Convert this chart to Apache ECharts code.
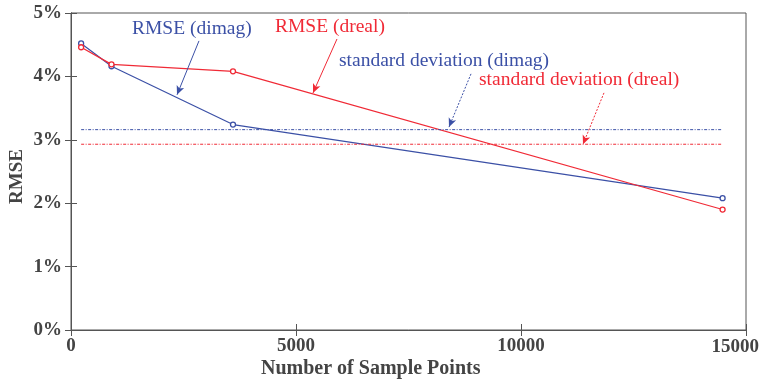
<!DOCTYPE html>
<html>
<head>
<meta charset="utf-8">
<script src="https://cdn.jsdelivr.net/npm/echarts@6/dist/echarts.min.js"></script>
<style>
  html, body { margin: 0; padding: 0; background: #fff; }
  #chart { width: 759px; height: 385px; }
</style>
</head>
<body>
<div id="chart"></div>
<script>
// 데이터
const samplePoints = [225, 900, 3600, 14480];
const rmseDimag = [4.52, 4.16, 3.24, 2.08];
const rmseDreal = [4.46, 4.19, 4.08, 1.90];
const stdRange = [225, 14480];
const stdDimag = 3.16;
const stdDreal = 2.93;
const xTicks = [0, 5000, 10000, 15000];
const yTicks = [0, 1, 2, 3, 4, 5];

const BLUE = "#3b50a6";
const RED = "#f02a36";
const AXIS = "#555";
const FONT = "'Liberation Serif', 'DejaVu Serif', serif";

const pairs = (xs, ys) => xs.map((x, i) => [x, ys[i]]);

// 화살표 (데이터 좌표로 지정)
function arrow(from, to, color, dotted) {
  return {
    type: "line",
    data: [],
    silent: true,
    markLine: {
      silent: true,
      symbol: ["none", "arrow"],
      symbolSize: [6, 9],
      label: { show: false },
      lineStyle: { color: color, width: 1, type: dotted ? [2, 1.5] : "solid" },
      data: [[{ coord: from }, { coord: to }]],
    },
  };
}

document.addEventListener("DOMContentLoaded", function () {
  const chart = echarts.init(document.getElementById("chart"));
  const tickLabel = { color: "#444", fontFamily: FONT, fontWeight: "bold", fontSize: 19 };
  const lastX = xTicks[xTicks.length - 1];

  const option = {
    animation: false,
    grid: {
      left: 71, right: 13, top: 13, bottom: 55, containLabel: false, outerBoundsMode: "none",
      show: true, borderColor: AXIS, borderWidth: 1,
    },
    xAxis: [
      {
        type: "value", min: 0, max: 15000, interval: 5000,
        axisLine: { lineStyle: { color: AXIS } },
        axisTick: { inside: true, length: 6, lineStyle: { color: AXIS } },
        // 마지막 눈금 라벨은 오른쪽 끝에 맞춰 따로 그림
        axisLabel: Object.assign({ margin: 7, formatter: (v) => xTicks.includes(v) && v !== lastX ? String(v) : "" }, tickLabel),
        splitLine: { show: false },
      },
      {
        type: "value", position: "top", min: 0, max: 15000, interval: 5000,
        axisLine: { lineStyle: { color: AXIS } },
        axisTick: { inside: true, length: 6, lineStyle: { color: AXIS } },
        axisLabel: { show: false }, splitLine: { show: false },
      },
    ],
    yAxis: [
      {
        type: "value", min: 0, max: 5, interval: 1,
        axisLine: { show: true, lineStyle: { color: AXIS } },
        axisTick: { show: true, inside: true, length: 6, lineStyle: { color: AXIS } },
        axisLabel: Object.assign({ margin: 9, formatter: (v) => yTicks.includes(v) ? v + "%" : "" }, tickLabel),
        splitLine: { show: false },
      },
      {
        type: "value", position: "right", min: 0, max: 5, interval: 1,
        axisLine: { show: true, lineStyle: { color: AXIS } },
        axisTick: { show: true, inside: true, length: 6, lineStyle: { color: AXIS } },
        axisLabel: { show: false }, splitLine: { show: false },
      },
    ],
    graphic: [
      { type: "text", right: 0, top: 338, style: { text: String(lastX), fill: "#444", font: "bold 19px " + FONT } },
      { type: "text", left: 261, top: 359, style: { text: "Number of Sample Points", fill: "#444", font: "bold 20px " + FONT } },
      { type: "text", x: 8, y: 204, rotation: Math.PI / 2, style: { text: "RMSE", fill: "#444", font: "bold 19px " + FONT } },
      { type: "text", left: 132, top: 19, style: { text: "RMSE (dimag)", fill: BLUE, font: "19.5px " + FONT } },
      { type: "text", left: 275, top: 17, style: { text: "RMSE (dreal)", fill: RED, font: "19.5px " + FONT } },
      { type: "text", left: 339, top: 51, style: { text: "standard deviation (dimag)", fill: BLUE, font: "19.5px " + FONT } },
      { type: "text", left: 479, top: 70, style: { text: "standard deviation (dreal)", fill: RED, font: "19.5px " + FONT } },
    ],
    series: [
      {
        name: "RMSE (dimag)", type: "line", data: pairs(samplePoints, rmseDimag),
        symbol: "circle", symbolSize: 5, z: 3,
        lineStyle: { color: BLUE, width: 1.2 },
        itemStyle: { color: "#fff", borderColor: BLUE, borderWidth: 1.3 },
      },
      {
        name: "RMSE (dreal)", type: "line", data: pairs(samplePoints, rmseDreal),
        symbol: "circle", symbolSize: 5, z: 3,
        lineStyle: { color: RED, width: 1.2 },
        itemStyle: { color: "#fff", borderColor: RED, borderWidth: 1.3 },
      },
      {
        name: "std (dimag)", type: "line", data: stdRange.map((x) => [x, stdDimag]),
        symbol: "none", lineStyle: { color: BLUE, width: 1, type: [3, 1.5, 1, 1.5] },
      },
      {
        name: "std (dreal)", type: "line", data: stdRange.map((x) => [x, stdDreal]),
        symbol: "none", lineStyle: { color: RED, width: 1, type: [3, 1.5, 1, 1.5] },
      },
      arrow([2844, 4.56], [2356, 3.71], BLUE, false),
      arrow([5911, 4.59], [5378, 3.74], RED, false),
      arrow([8889, 4.04], [8400, 3.20], BLUE, true),
      arrow([11844, 3.74], [11378, 2.93], RED, true),
    ],
  };
  chart.setOption(option);
});
</script>
</body>
</html>
